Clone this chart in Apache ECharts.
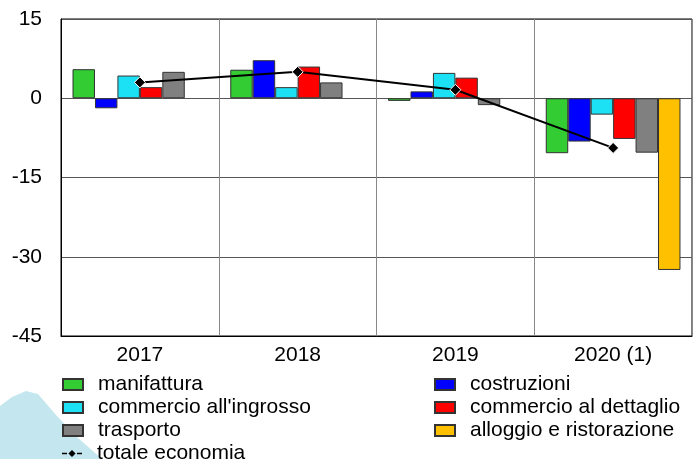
<!DOCTYPE html>
<html>
<head>
<meta charset="utf-8">
<script src="https://cdn.jsdelivr.net/npm/echarts@6/dist/echarts.min.js"></script>
<style>
  html, body { margin: 0; padding: 0; background: #fff; }
  #chart { width: 694px; height: 459px; }
</style>
</head>
<body>
<div id="chart"></div>
<script>
// categorie e serie
var anni = ['2017', '2018', '2019', '2020 (1)'];
var manifattura = [5.5, 5.4, -0.5, -10.4];
var costruzioni = [-1.9, 7.2, 1.3, -8.2];
var ingrosso = [4.3, 2.1, 4.8, -3.1];
var dettaglio = [2.1, 6.0, 3.9, -7.7];
var trasporto = [5.0, 3.0, -1.3, -10.3];
var alloggio = [null, null, null, -32.5];
var totale = [3.0, 5.0, 1.6, -9.4];

var font = 'Liberation Sans, Arial, sans-serif';
// icona "-◆-" per la linea
var iconaLinea = 'path://M0,4.8h5v1.6h-5z M15,4.8h5v1.6h-5z M10,2L13.6,5.6L10,9.2L6.4,5.6z';

function barra(nome, colore, dati) {
  return {
    name: nome,
    type: 'bar',
    data: dati,
    barGap: '0%',
    barCategoryGap: '14.6%',
    itemStyle: { color: colore, borderColor: '#333', borderWidth: 1 },
    animation: false
  };
}

function legenda(left, top, voci) {
  return {
    orient: 'vertical',
    left: left, top: top,
    padding: 0,
    itemWidth: 20, itemHeight: 11, itemGap: 2,
    icon: 'rect',
    textStyle: { fontSize: 21, lineHeight: 21, color: '#000', fontFamily: font, padding: [0, 0, 0, 10] },
    data: voci
  };
}

var chart = echarts.init(document.getElementById('chart'));
var option = {
  textStyle: { fontFamily: font },
  graphic: [{
    type: 'polygon',
    z: -10,
    shape: { points: [[0, 406], [12, 397], [26, 391], [38, 394], [56, 415], [78, 438], [102, 459], [0, 459]] },
    style: { fill: '#c4e6ee' }
  }],
  grid: {
    left: 61, right: 2, top: 19, bottom: 123,
    show: true, borderColor: '#000', borderWidth: 1
  },
  legend: [
    legenda(62, 374, ['manifattura', "commercio all'ingrosso", 'trasporto']),
    legenda(434, 374, ['costruzioni', 'commercio al dettaglio', 'alloggio e ristorazione']),
    legenda(62, 443, [{
      name: 'totale economia',
      icon: iconaLinea,
      itemStyle: { color: '#000', borderWidth: 0 },
      lineStyle: { width: 0 }
    }])
  ],
  xAxis: {
    type: 'category',
    data: anni,
    axisLine: { onZero: false, lineStyle: { color: '#000' } },
    axisTick: { show: false },
    axisLabel: { fontSize: 21, color: '#000', margin: 9 },
    splitLine: { show: true, lineStyle: { color: '#888', width: 1 } }
  },
  yAxis: {
    type: 'value',
    min: -45, max: 15, interval: 15,
    axisLine: { show: true, lineStyle: { color: '#000' } },
    axisTick: { show: false },
    axisLabel: { fontSize: 21, color: '#000', margin: 19 },
    splitLine: { show: true, lineStyle: { color: '#555', width: 1 } }
  },
  series: [
    barra('manifattura', '#33CC33', manifattura),
    barra('costruzioni', '#0000FF', costruzioni),
    barra("commercio all'ingrosso", '#1CE1F5', ingrosso),
    barra('commercio al dettaglio', '#FF0000', dettaglio),
    barra('trasporto', '#808080', trasporto),
    barra('alloggio e ristorazione', '#FFC000', alloggio),
    {
      name: 'totale economia',
      type: 'line',
      data: totale,
      symbol: 'diamond',
      symbolSize: 11,
      lineStyle: { color: '#000', width: 2 },
      itemStyle: { color: '#000', borderColor: '#fff', borderWidth: 1 },
      z: 5,
      animation: false
    }
  ]
};
chart.setOption(option);
</script>
</body>
</html>
